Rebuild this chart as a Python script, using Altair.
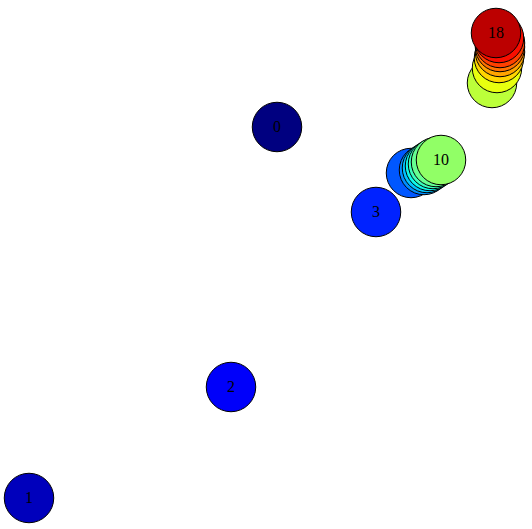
import altair as alt
import pandas as pd

# point ids, positions (x to the right, y upward)
ids = list(range(19))
xs = [277, 29, 231, 376, 411, 424, 427, 430, 433, 436, 441,
      492, 497, 499, 500, 500, 500, 499, 496]
ys = [402, 31, 142, 317, 356, 359, 361, 363, 365, 367, 369,
      446, 461, 471, 477, 482, 486, 491, 496]

# jet-like colour per id
colors = ["#000080", "#0000bc", "#0000fa", "#0022ff", "#0057ff", "#008dff",
          "#00c3ff", "#0ff8e8", "#3affbc", "#66ff91", "#91ff66", "#bcff3a",
          "#e8ff0f", "#ffd500", "#ffa400", "#ff7200", "#ff4000", "#fa0e00",
          "#bc0000"]

df = pd.DataFrame({"id": ids, "x": xs, "y": ys})

W, H = 532, 529
xscale = alt.Scale(domain=[0, W], zero=False, nice=False)
yscale = alt.Scale(domain=[0, H], zero=False, nice=False)
cscale = alt.Scale(domain=ids, range=colors)

base = alt.Chart(df).encode(
    x=alt.X("x:Q", scale=xscale, axis=None),
    y=alt.Y("y:Q", scale=yscale, axis=None),
)

# each point: its circle, then its label, so later circles cover earlier labels
layers = []
for i in ids:
    sub = base.transform_filter(alt.datum.id == i)
    layers.append(
        sub.mark_circle(size=2450, opacity=1, stroke="black", strokeWidth=1).encode(
            color=alt.Color("id:N", scale=cscale, legend=None)
        )
    )
    layers.append(
        sub.mark_text(font="Liberation Serif", fontSize=16, color="black").encode(
            text="id:N"
        )
    )

chart = alt.layer(*layers).properties(
    width=W, height=H, padding=0, autosize=alt.AutoSizeParams(type="none")
).configure_view(stroke=None)

chart.save("out.html", embed_options={"renderer": "svg", "actions": False})
